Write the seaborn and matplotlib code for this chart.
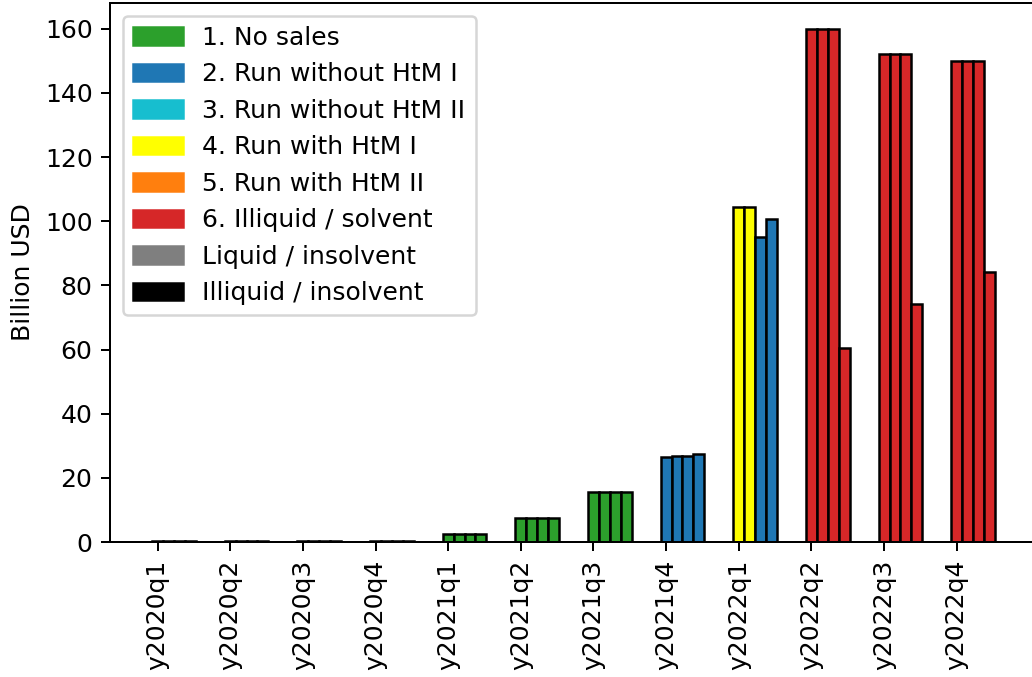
import matplotlib
matplotlib.use("Agg")
import matplotlib.pyplot as plt
import matplotlib.patches as mpatches
import numpy as np
import seaborn as sns

# Quarters on the x axis
quarters = ["y2020q1", "y2020q2", "y2020q3", "y2020q4",
            "y2021q1", "y2021q2", "y2021q3", "y2021q4",
            "y2022q1", "y2022q2", "y2022q3", "y2022q4"]

# Four scenario bars per quarter (billion USD)
bar1 = [0.3, 0.3, 0.3, 0.3, 2.4, 7.4, 15.7, 26.4, 104.3, 160.0, 152.0, 150.0]
bar2 = [0.3, 0.3, 0.3, 0.3, 2.4, 7.4, 15.7, 26.7, 104.3, 160.0, 152.0, 150.0]
bar3 = [0.3, 0.3, 0.3, 0.3, 2.4, 7.4, 15.7, 26.9, 95.0, 160.0, 152.0, 150.0]
bar4 = [0.3, 0.3, 0.3, 0.3, 2.4, 7.4, 15.7, 27.4, 100.6, 60.4, 74.1, 84.3]

# Outcome state of each bar (index into state_labels)
state1 = [0, 0, 0, 0, 0, 0, 0, 1, 3, 5, 5, 5]
state2 = [0, 0, 0, 0, 0, 0, 0, 1, 3, 5, 5, 5]
state3 = [0, 0, 0, 0, 0, 0, 0, 1, 1, 5, 5, 5]
state4 = [0, 0, 0, 0, 0, 0, 0, 1, 1, 5, 5, 5]

state_labels = ["1. No sales", "2. Run without HtM I", "3. Run without HtM II",
                "4. Run with HtM I", "5. Run with HtM II", "6. Illiquid / solvent",
                "Liquid / insolvent", "Illiquid / insolvent"]

sns.set_style("ticks", rc={
    "axes.edgecolor": "black", "text.color": "black", "axes.labelcolor": "black",
    "xtick.color": "black", "ytick.color": "black",
})
plt.rcParams["font.family"] = ["DejaVu Sans"]

tab = sns.color_palette("tab10")
state_colors = [tab[2], tab[0], tab[9], "yellow", tab[1], tab[3], tab[7], "black"]

W, H, DPI = 1032, 677, 180
fig = plt.figure(figsize=(W / DPI, H / DPI), dpi=DPI)
ax = fig.add_axes([110 / W, (H - 542) / H, (1037 - 110) / W, (542 - 3) / H])

x = np.arange(len(quarters))
width = 0.15
for j, (vals, states) in enumerate([(bar1, state1), (bar2, state2),
                                    (bar3, state3), (bar4, state4)]):
    ax.bar(x + j * width, vals, width=width,
           color=[state_colors[s] for s in states],
           edgecolor="black", linewidth=1.0)

ax.set_xticks(x)
ax.set_xticklabels(quarters, rotation=90)
ax.set_ylabel("Billion USD")
ax.spines["right"].set_visible(True)
ax.spines["top"].set_visible(True)

handles = [mpatches.Patch(color=c, label=l) for c, l in zip(state_colors, state_labels)]
ax.legend(handles=handles, loc="upper left")

fig.savefig("out.png", dpi=DPI)
